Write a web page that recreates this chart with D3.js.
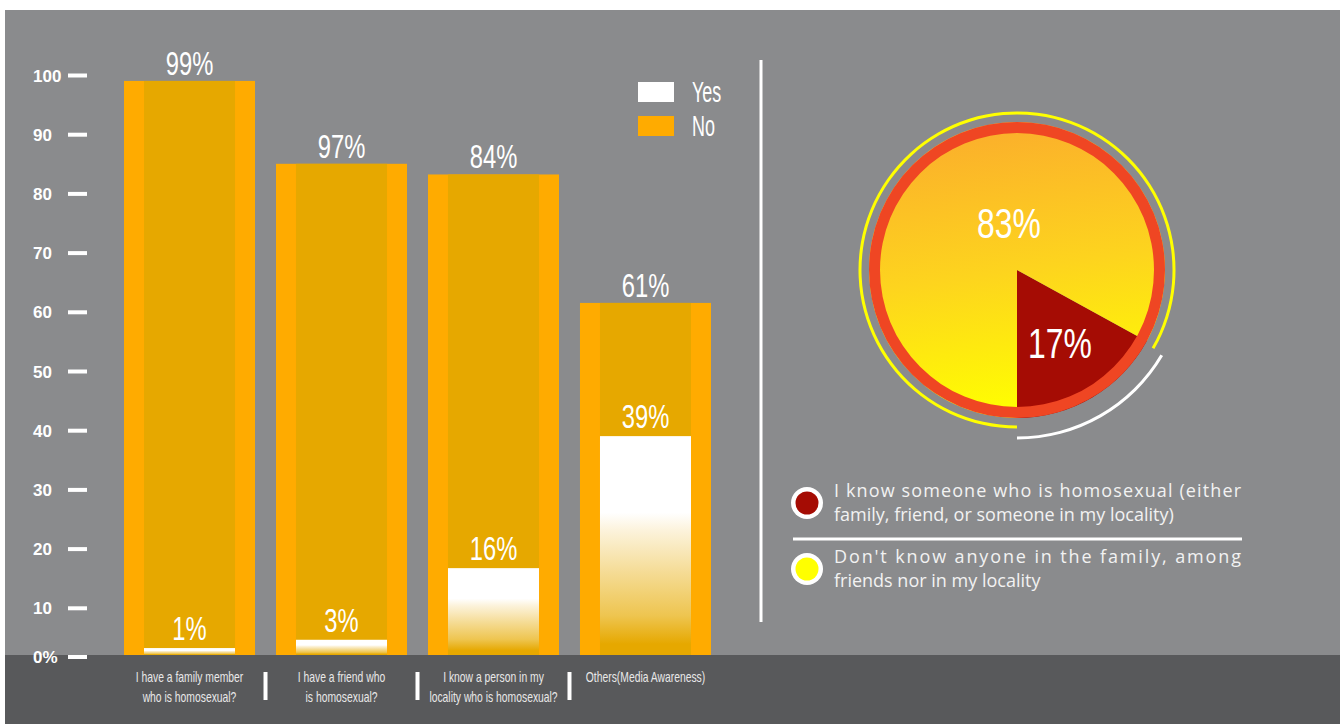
<!DOCTYPE html>
<html><head><meta charset="utf-8">
<script src="https://cdn.jsdelivr.net/npm/d3@7"></script>
<style>
html,body{margin:0;padding:0;background:#fff;}
svg{display:block;}
</style></head>
<body>
<svg id="chart" width="1340" height="724"></svg>
<script>
// ---- data ----
const categories = ["I have a family member\nwho is homosexual?", "I have a friend who\nis homosexual?", "I know a person in my\nlocality who is homosexual?", "Others(Media Awareness)"];
const noHeights = [99, 85, 83.2, 61.5];          // bar heights as drawn
const noLabels = ["99%", "97%", "84%", "61%"];
const yesHeights = [3.2, 4.6, 16.7, 39];
const yesLabels = ["1%", "3%", "16%", "39%"];
const yTicks = [0, 10, 20, 30, 40, 50, 60, 70, 80, 90, 100];
const legendKeys = ["Yes", "No"];
const pieNames = ["I know someone who is homosexual (either\nfamily, friend, or someone in my locality)", "Don't know anyone in the family, among\nfriends nor in my locality"];
const pieValues = [17, 83];
const pieLabels = ["17%", "83%"];

const svg = d3.select("#chart");
const W = 1340, H = 724;
const C = {bg:"#8a8b8d", band:"#58595b", orange:"#ffab00", inner:"#e6a800", white:"#ffffff", red:"#a50c04", ring:"#ef4623", yellow:"#ffff00"};
const condensed = "'Liberation Sans', Arial, sans-serif";

const defs = svg.append("defs");
const yg = defs.append("linearGradient").attr("id","yesGrad").attr("x1",0).attr("y1",0).attr("x2",0).attr("y2",1);
[[0,"#ffffff"],[0.35,"#ffffff"],[0.43,"#fcf3dc"],[0.62,"#f5dc96"],[0.82,"#eec550"],[0.95,"#e6a800"],[1,"#e6a800"]].forEach(s=>yg.append("stop").attr("offset",s[0]).attr("stop-color",s[1]));
const pg = defs.append("linearGradient").attr("id","pieGrad").attr("gradientUnits","userSpaceOnUse")
  .attr("x1",-20).attr("y1",-140).attr("x2",20).attr("y2",140);
[[0,"#fbb02b"],[0.5,"#fdd41e"],[1,"#ffff00"]].forEach(s=>pg.append("stop").attr("offset",s[0]).attr("stop-color",s[1]));

// background
svg.append("rect").attr("x",5).attr("y",10).attr("width",W-5).attr("height",H-10).attr("fill",C.bg);

// scales
const y = d3.scaleLinear().domain([0,100]).range([667,75]);
const x = d3.scaleBand().domain(categories).range([124,711]).paddingInner(0.138).paddingOuter(0);
const inset = 20;
const baseY = 655; // top of the bottom band

// helper for condensed text
function ctext(g, tx, ty, str, size, sx, anchor){
  return g.append("text").attr("transform",`translate(${tx},${ty}) scale(${sx},1)`)
    .attr("text-anchor",anchor||"middle").attr("font-family",condensed).attr("font-size",size)
    .attr("fill","#fff").text(str);
}

// bars
const bars = svg.append("g");
categories.forEach((c,i)=>{
  const x0 = x(c), bw = x.bandwidth();
  bars.append("rect").attr("x",x0).attr("y",y(noHeights[i])).attr("width",bw).attr("height",y(0)-y(noHeights[i])).attr("fill",C.orange);
  bars.append("rect").attr("x",x0+inset).attr("y",y(noHeights[i])).attr("width",bw-2*inset).attr("height",y(0)-y(noHeights[i])).attr("fill",C.inner);
  bars.append("rect").attr("x",x0+inset).attr("y",y(yesHeights[i])).attr("width",bw-2*inset).attr("height",baseY-y(yesHeights[i])).attr("fill","url(#yesGrad)");
  ctext(bars, x0+bw/2, y(noHeights[i])-6, noLabels[i], 33, 0.72);
  ctext(bars, x0+bw/2, y(yesHeights[i])-8, yesLabels[i], 33, 0.72);
});

// bottom band
svg.append("rect").attr("x",5).attr("y",baseY).attr("width",W-5).attr("height",H-baseY).attr("fill",C.band);

// y axis
const yAxis = svg.append("g").attr("transform","translate(87,0)")
  .call(d3.axisLeft(y).tickValues(yTicks).tickSize(19).tickFormat(d=>d===0?"0%":d));
yAxis.select(".domain").remove();
yAxis.selectAll(".tick").filter(d=>d===0).attr("transform",`translate(0,${y(0)-10})`);
yAxis.selectAll(".tick line").attr("stroke","#fff").attr("stroke-width",4);
yAxis.selectAll(".tick text").attr("x",-54).attr("text-anchor","start").attr("dy","0.36em")
  .attr("fill","#fff").attr("font-family","'Liberation Sans', Arial, sans-serif").attr("font-weight","bold").attr("font-size",17);

// x labels
const xl = svg.append("g");
categories.forEach((c,i)=>{
  const cx = x(c)+x.bandwidth()/2;
  c.split("\n").forEach((ln,j)=>{
    ctext(xl, cx, 682+j*20, ln, 14, 0.74).attr("fill","#e8e8e8");
  });
  if(i>0){
    const mid = (x(categories[i-1])+x.bandwidth()+x(c))/2;
    xl.append("rect").attr("x",mid-2).attr("y",672).attr("width",4).attr("height",28).attr("fill","#fff");
  }
});

// legend Yes/No
const lg = svg.append("g");
legendKeys.forEach((k,i)=>{
  lg.append("rect").attr("x",638).attr("y",82+i*34).attr("width",36).attr("height",20).attr("fill",i===0?C.white:C.orange);
  ctext(lg, 692, 102+i*34, k, 29, 0.62, "start");
});

// divider
svg.append("line").attr("x1",761).attr("x2",761).attr("y1",60).attr("y2",622).attr("stroke","#fff").attr("stroke-width",3);

// pie
const pgG = svg.append("g").attr("transform","translate(1017,270)");
const start = Math.PI - pieValues[0]/100*2*Math.PI;
const pie = d3.pie().sort(null).startAngle(start).endAngle(start+2*Math.PI);
const arcs = pie(pieValues);
const arc = d3.arc().innerRadius(0).outerRadius(148);
pgG.selectAll("path.slice").data(arcs).join("path").attr("class","slice").attr("d",arc)
  .attr("fill",(d,i)=>i===0?C.red:"url(#pieGrad)");
pgG.append("path").attr("d",d3.arc().innerRadius(137).outerRadius(148).startAngle(0).endAngle(2*Math.PI)()).attr("fill",C.ring);
pgG.append("path").attr("d",d3.arc().innerRadius(155.5).outerRadius(158.5).startAngle(Math.PI).endAngle(2*Math.PI+start+0.02)()).attr("fill",C.yellow);
pgG.append("path").attr("d",d3.arc().innerRadius(166.5).outerRadius(169.5).startAngle(start+0.03).endAngle(Math.PI)()).attr("fill","#fff");
ctext(pgG, 43, 88, pieLabels[0], 42, 0.76);
ctext(pgG, -8, -32, pieLabels[1], 42, 0.76);

// pie legend
const pl = svg.append("g");
const legY = [497, 563];
pieNames.forEach((n,i)=>{
  const cy = legY[i]+6;
  pl.append("circle").attr("cx",807).attr("cy",cy).attr("r",16).attr("fill","#fff");
  pl.append("circle").attr("cx",807).attr("cy",cy).attr("r",11.5).attr("fill",i===0?C.red:C.yellow);
  n.split("\n").forEach((ln,j)=>{
    const t = pl.append("text").attr("x",834).attr("y",legY[i]+j*24).attr("font-family","'Open Sans', sans-serif")
      .attr("font-size",18).attr("fill","#f2f2f2").text(ln);
    if(j===0) t.attr("textLength",407).attr("lengthAdjust","spacing");
  });
});
pl.append("line").attr("x1",793).attr("x2",1242).attr("y1",539).attr("y2",539).attr("stroke","#fff").attr("stroke-width",3);
</script>
</body></html>
